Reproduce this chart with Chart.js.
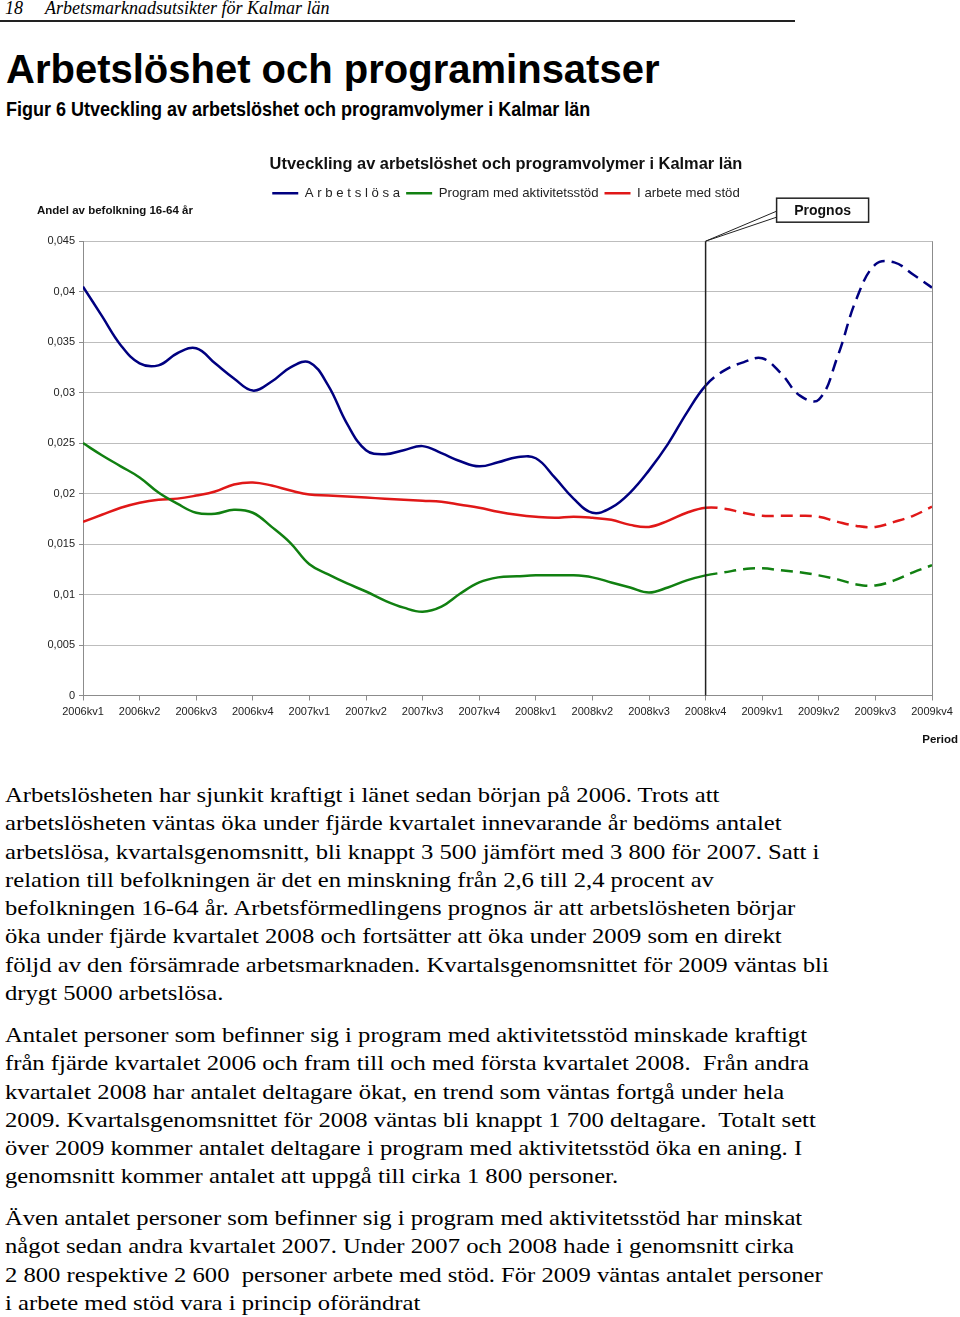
<!DOCTYPE html>
<html lang="sv">
<head>
<meta charset="utf-8">
<title>Arbetslöshet och programinsatser</title>
<script src="https://cdn.jsdelivr.net/npm/chart.js@4.4.1/dist/chart.umd.min.js"></script>
<style>
  html, body { margin: 0; padding: 0; background: #fff; }
  body { width: 960px; height: 1317px; position: relative; overflow: hidden; color: #000; }
  .runhead { position: absolute; left: 0; top: 0; width: 795px; height: 20px; border-bottom: 2px solid #222;
    font: italic 18px "Liberation Serif", "Times New Roman", serif; line-height: 20px; }
  .runhead .pg { position: absolute; left: 5px; top: -2px; }
  .runhead .tx { position: absolute; left: 45px; top: -2px; }
  h1 { position: absolute; left: 6px; top: 49px; margin: 0; font: bold 40px/40px "Liberation Sans", Arial, sans-serif; white-space: nowrap; }
  h2 { position: absolute; left: 6px; top: 99px; margin: 0; font: bold 18px/18px "Liberation Sans", Arial, sans-serif; white-space: nowrap;
    transform: scaleY(1.1); transform-origin: 0 0; }
  .chartbox { position: absolute; left: 0; top: 150px; width: 972px; height: 600px; }
  .txt { position: absolute; left: 5px; margin: 0; white-space: pre; font: 22px/28.3px "Liberation Serif", "Times New Roman", serif;
    transform: scaleX(1.12); transform-origin: 0 0; }
</style>
</head>
<body>
<div class="runhead"><span class="pg">18</span><span class="tx">Arbetsmarknadsutsikter för Kalmar län</span></div>
<h1>Arbetslöshet och programinsatser</h1>
<h2>Figur 6 Utveckling av arbetslöshet och programvolymer i Kalmar län</h2>

<div class="chartbox"><canvas id="chart"></canvas></div>

<p class="txt" style="top:781px">Arbetslösheten har sjunkit kraftigt i länet sedan början på 2006. Trots att
arbetslösheten väntas öka under fjärde kvartalet innevarande år bedöms antalet
arbetslösa, kvartalsgenomsnitt, bli knappt 3 500 jämfört med 3 800 för 2007. Satt i
relation till befolkningen är det en minskning från 2,6 till 2,4 procent av
befolkningen 16-64 år. Arbetsförmedlingens prognos är att arbetslösheten börjar
öka under fjärde kvartalet 2008 och fortsätter att öka under 2009 som en direkt
följd av den försämrade arbetsmarknaden. Kvartalsgenomsnittet för 2009 väntas bli
drygt 5000 arbetslösa.</p>
<p class="txt" style="top:1021px">Antalet personer som befinner sig i program med aktivitetsstöd minskade kraftigt
från fjärde kvartalet 2006 och fram till och med första kvartalet 2008.  Från andra
kvartalet 2008 har antalet deltagare ökat, en trend som väntas fortgå under hela
2009. Kvartalsgenomsnittet för 2008 väntas bli knappt 1 700 deltagare.  Totalt sett
över 2009 kommer antalet deltagare i program med aktivitetsstöd öka en aning. I
genomsnitt kommer antalet att uppgå till cirka 1 800 personer.</p>
<p class="txt" style="top:1204px">Även antalet personer som befinner sig i program med aktivitetsstöd har minskat
något sedan andra kvartalet 2007. Under 2007 och 2008 hade i genomsnitt cirka
2 800 respektive 2 600  personer arbete med stöd. För 2009 väntas antalet personer
i arbete med stöd vara i princip oförändrat</p>

<script>
// quarters on the x axis, three monthly readings per quarter
const quarterLabels = ['2006kv1', '2006kv2', '2006kv3', '2006kv4', '2007kv1', '2007kv2', '2007kv3', '2007kv4',
  '2008kv1', '2008kv2', '2008kv3', '2008kv4', '2009kv1', '2009kv2', '2009kv3', '2009kv4'];
const stepsPerQuarter = 3;
const prognosFrom = '2008kv4';

const seriesNames = ['A r b e t s l ö s a', 'Program med aktivitetsstöd', 'I arbete med stöd'];

// share of population 16-64
const arbetslosa = [0.0405, 0.0376, 0.0347, 0.0329, 0.0327, 0.0339, 0.0344, 0.0329, 0.0314, 0.0302,
  0.0311, 0.0325, 0.0330, 0.0307, 0.0269, 0.0243, 0.0239, 0.0243, 0.0247, 0.0240,
  0.0232, 0.0227, 0.0231, 0.0236, 0.0235, 0.0216, 0.0195, 0.0181, 0.0186, 0.0201,
  0.0223, 0.0249, 0.0280, 0.0307, 0.0322, 0.0330, 0.0334, 0.0319, 0.0297, 0.0293,
  0.0336, 0.0393, 0.0427, 0.0429, 0.0417, 0.0404];
const aktivitetsstod = [0.0250, 0.0238, 0.0227, 0.0216, 0.0201, 0.0190, 0.0181, 0.0180, 0.0184, 0.0181,
  0.0167, 0.0151, 0.0130, 0.0120, 0.0111, 0.0103, 0.0094, 0.0087, 0.0083, 0.0088,
  0.0101, 0.0112, 0.0117, 0.0118, 0.0119, 0.0119, 0.0119, 0.0117, 0.0112, 0.0107,
  0.0102, 0.0107, 0.0114, 0.0119, 0.0122, 0.0125, 0.0126, 0.0124, 0.0122, 0.0119,
  0.0115, 0.0110, 0.0109, 0.0114, 0.0122, 0.0129];
const arbeteMedStod = [0.0172, 0.0179, 0.0186, 0.0191, 0.0194, 0.0195, 0.0198, 0.0202, 0.0209, 0.0211,
  0.0208, 0.0203, 0.0199, 0.0198, 0.0197, 0.0196, 0.0195, 0.0194, 0.0193, 0.0192,
  0.0189, 0.0186, 0.0182, 0.0179, 0.0177, 0.0176, 0.0177, 0.0176, 0.0174, 0.0169,
  0.0167, 0.0173, 0.0181, 0.0186, 0.0185, 0.0181, 0.0178, 0.0178, 0.0178, 0.0177,
  0.0172, 0.0168, 0.0167, 0.0172, 0.0178, 0.0187];

const colors = ['#000080', '#118011', '#e01818'];
const FONT = '"Liberation Sans", Arial, sans-serif';

const prognosQuarter = quarterLabels.indexOf(prognosFrom);
const prognosIndex = prognosQuarter * stepsPerQuarter;
const toPoints = arr => arr.map((v, i) => ({ x: i / stepsPerQuarter, y: v }));

const makeSet = (label, arr, color) => ({
  label,
  data: toPoints(arr),
  borderColor: color,
  backgroundColor: color,
  borderWidth: 2.5,
  pointRadius: 0,
  tension: 0.4,
  fill: false,
  segment: {
    borderDash: ctx => (ctx.p0DataIndex >= prognosIndex ? [12, 7] : undefined)
  }
});

// vertical prognos line + callout box + loose axis captions
const extras = {
  id: 'extras',
  afterDraw(chart) {
    const { ctx, chartArea } = chart;
    const x = chart.scales.x.getPixelForValue(prognosQuarter);
    ctx.save();
    ctx.strokeStyle = '#222';
    ctx.lineWidth = 1.5;
    ctx.beginPath();
    ctx.moveTo(x, chartArea.top);
    ctx.lineTo(x, chartArea.bottom);
    ctx.stroke();

    const bx = x + 71, by = chartArea.top - 43, bw = 92, bh = 24;
    ctx.lineWidth = 1;
    ctx.beginPath();
    ctx.moveTo(bx, by + 13);
    ctx.lineTo(x, chartArea.top);
    ctx.lineTo(bx, by + 19);
    ctx.stroke();
    ctx.fillStyle = '#fff';
    ctx.fillRect(bx, by, bw, bh);
    ctx.lineWidth = 1.5;
    ctx.strokeRect(bx, by, bw, bh);
    ctx.fillStyle = '#111';
    ctx.font = 'bold 14px ' + FONT;
    ctx.textAlign = 'center';
    ctx.textBaseline = 'middle';
    ctx.fillText('Prognos', bx + bw / 2, by + bh / 2 + 1);

    ctx.font = 'bold 11.5px ' + FONT;
    ctx.textAlign = 'left';
    ctx.fillText('Andel av befolkning 16-64 år', 37, chartArea.top - 30);
    ctx.textAlign = 'right';
    ctx.fillText('Period', chartArea.right + 26, chartArea.bottom + 44);
    ctx.restore();
  }
};

new Chart(document.getElementById('chart'), {
  type: 'line',
  data: {
    datasets: [
      makeSet(seriesNames[0], arbetslosa, colors[0]),
      makeSet(seriesNames[1], aktivitetsstod, colors[1]),
      makeSet(seriesNames[2], arbeteMedStod, colors[2])
    ]
  },
  options: {
    responsive: true,
    maintainAspectRatio: false,
    animation: false,
    layout: { padding: { left: 40, right: 0, top: 0, bottom: 29.5 } },
    plugins: {
      title: {
        display: true,
        text: 'Utveckling av arbetslöshet och programvolymer i Kalmar län',
        color: '#111',
        font: { family: FONT, size: 16.4, weight: 'bold' },
        padding: { top: 5, bottom: 6 }
      },
      subtitle: {
        // empty spacer between legend and plot
        display: true,
        text: '',
        weight: 500,
        font: { size: 10 },
        padding: { top: 0, bottom: 19.3 }
      },
      legend: {
        display: true,
        position: 'top',
        labels: {
          usePointStyle: true,
          pointStyle: 'line',
          pointStyleWidth: 26,
          padding: 6,
          color: '#222',
          font: { family: FONT, size: 13.2 }
        }
      },
      tooltip: { enabled: false }
    },
    scales: {
      x: {
        type: 'linear',
        min: 0,
        max: quarterLabels.length - 1,
        afterFit: s => { s.height = 25; },
        ticks: {
          stepSize: 1,
          autoSkip: false,
          maxRotation: 0,
          padding: 5,
          color: '#222',
          font: { family: FONT, size: 11 },
          callback: v => quarterLabels[v]
        },
        grid: {
          drawOnChartArea: true,
          color: c => (c.tick && c.tick.value === quarterLabels.length - 1 ? '#8c8c8c' : 'rgba(0,0,0,0)'),
          tickColor: '#8c8c8c',
          tickLength: 5
        },
        border: { color: '#8c8c8c', width: 1 }
      },
      y: {
        min: 0,
        max: 0.045,
        afterFit: s => { s.width = 43; },
        ticks: {
          stepSize: 0.005,
          padding: 4,
          color: '#222',
          font: { family: FONT, size: 11 },
          callback: v => String(parseFloat(v.toFixed(3))).replace('.', ',')
        },
        grid: { color: '#bdbdbd', tickColor: '#8c8c8c', tickLength: 4 },
        border: { color: '#8c8c8c', width: 1 }
      },
      y2: {
        position: 'right',
        afterFit: s => { s.width = 40; },
        ticks: { display: false },
        grid: { display: false },
        border: { display: false }
      }
    }
  },
  plugins: [extras]
});
</script>
</body>
</html>
